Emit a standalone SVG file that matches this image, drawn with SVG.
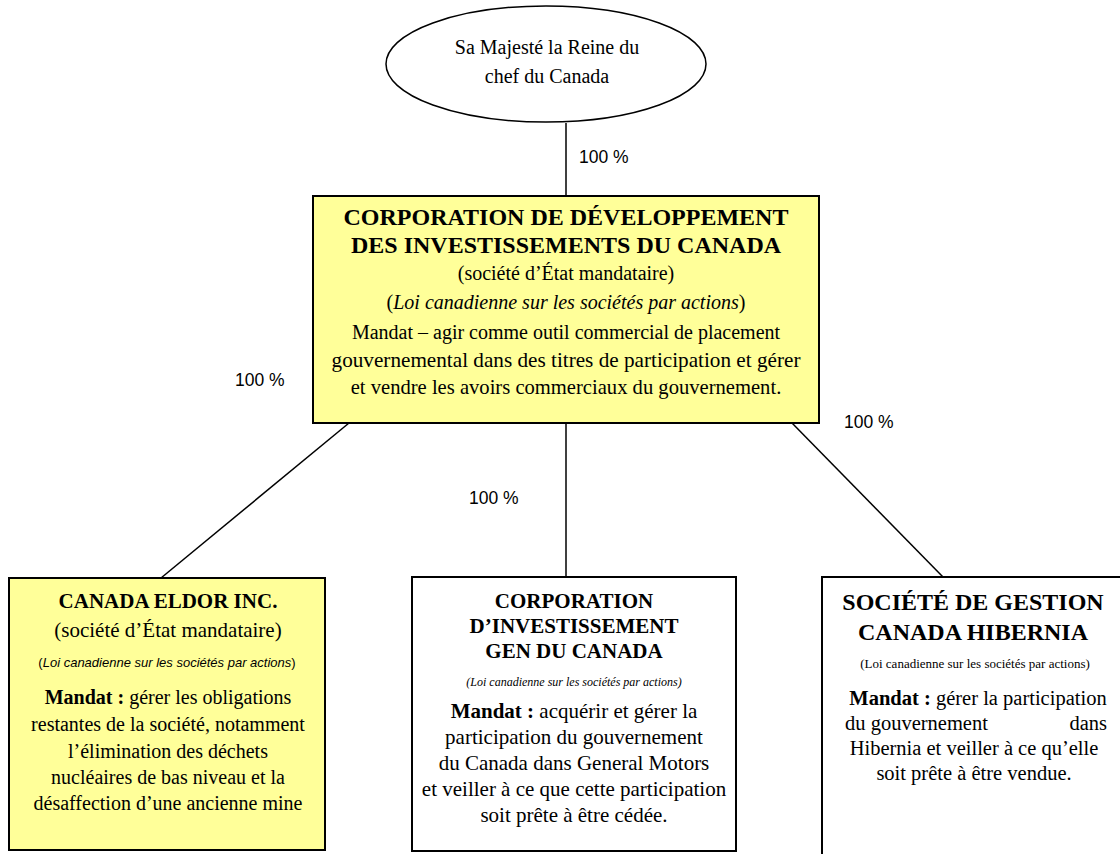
<svg xmlns="http://www.w3.org/2000/svg" width="1120" height="854" viewBox="0 0 1120 854">
<style>
.box{stroke:#000;stroke-width:2}
.y{fill:#FFFF99}
.w{fill:#fff}
.t{font-family:"Liberation Serif","Times New Roman",serif;fill:#000;text-anchor:middle}
.s{text-anchor:start}
.e{text-anchor:end}
.b{font-weight:bold}
.i{font-style:italic}
.a{font-family:"Liberation Sans",Arial,sans-serif;fill:#000}
.ln{stroke:#000;stroke-width:1.5;fill:none}
</style>
<rect width="1120" height="854" fill="#fff"/>
<g id="connectors">
<line class="ln" x1="566" y1="123" x2="566" y2="196"/>
<line class="ln" x1="349" y1="423" x2="161" y2="578"/>
<line class="ln" x1="566" y1="423" x2="566" y2="577"/>
<line class="ln" x1="792" y1="423" x2="943" y2="577"/>
<text class="a" x="579" y="163" font-size="17.5">100 %</text>
<text class="a" x="235" y="386" font-size="17.5">100 %</text>
<text class="a" x="469" y="504" font-size="17.5">100 %</text>
<text class="a" x="844" y="428" font-size="17.5">100 %</text>
</g>
<g id="queen">
<ellipse cx="546" cy="64" rx="160" ry="58" fill="#fff" stroke="#000" stroke-width="1.5"/>
<text class="t" x="547" y="54" font-size="20">Sa Majesté la Reine du</text>
<text class="t" x="547" y="83" font-size="20">chef du Canada</text>
</g>
<g id="cdic">
<rect class="box y" x="313" y="196" width="506" height="227"/>
<text class="t b" x="566" y="225" font-size="24">CORPORATION DE DÉVELOPPEMENT</text>
<text class="t b" x="566" y="253" font-size="24">DES INVESTISSEMENTS DU CANADA</text>
<text class="t" x="566" y="280" font-size="20">(société d’État mandataire)</text>
<text class="t" x="566" y="309" font-size="20">(<tspan class="i">Loi canadienne sur les sociétés par actions</tspan>)</text>
<text class="t" x="566" y="339" font-size="20">Mandat – agir comme outil commercial de placement</text>
<text class="t" x="566" y="367" font-size="21.2">gouvernemental dans des titres de participation et gérer</text>
<text class="t" x="566" y="394" font-size="20.6">et vendre les avoirs commerciaux du gouvernement.</text>
</g>
<g id="eldor">
<rect class="box y" x="9" y="578" width="316" height="272"/>
<text class="t b" x="168" y="608" font-size="21">CANADA ELDOR INC.</text>
<text class="t" x="168" y="637" font-size="21">(société d’État mandataire)</text>
<text class="a" x="167" y="667" font-size="13" text-anchor="middle">(<tspan font-style="italic">Loi canadienne sur les sociétés par actions</tspan>)</text>
<text class="t" x="168" y="704" font-size="20"><tspan class="b">Mandat :</tspan> gérer les obligations</text>
<text class="t" x="168" y="731" font-size="20">restantes de la société, notamment</text>
<text class="t" x="168" y="758" font-size="20">l’élimination des déchets</text>
<text class="t" x="168" y="784" font-size="20">nucléaires de bas niveau et la</text>
<text class="t" x="168" y="810" font-size="20">désaffection d’une ancienne mine</text>
</g>
<g id="gen">
<rect class="box w" x="412" y="577" width="324" height="274"/>
<text class="t b" x="574" y="608" font-size="21">CORPORATION</text>
<text class="t b" x="574" y="633" font-size="21">D’INVESTISSEMENT</text>
<text class="t b" x="574" y="658" font-size="21">GEN DU CANADA</text>
<text class="t i" x="574" y="686" font-size="12">(Loi canadienne sur les sociétés par actions)</text>
<text class="t" x="574" y="718" font-size="21"><tspan class="b">Mandat :</tspan> acquérir et gérer la</text>
<text class="t" x="574" y="744" font-size="21">participation du gouvernement</text>
<text class="t" x="574" y="770" font-size="21">du Canada dans General Motors</text>
<text class="t" x="574" y="796" font-size="21">et veiller à ce que cette participation</text>
<text class="t" x="574" y="822" font-size="21">soit prête à être cédée.</text>
</g>
<g id="hibernia">
<polyline class="box w" points="822,860 822,577 1125,577"/>
<text class="t b" x="973" y="610" font-size="24">SOCIÉTÉ DE GESTION</text>
<text class="t b" x="973" y="640" font-size="24">CANADA HIBERNIA</text>
<text class="t" x="975" y="668" font-size="13">(Loi canadienne sur les sociétés par actions)</text>
<text class="t" x="978" y="705" font-size="20.5"><tspan class="b">Mandat :</tspan> gérer la participation</text>
<text class="t s" x="845" y="730" font-size="20.5">du gouvernement</text>
<text class="t e" x="1107" y="730" font-size="20.5">dans</text>
<text class="t" x="974" y="755" font-size="20.5">Hibernia et veiller à ce qu’elle</text>
<text class="t" x="974" y="780" font-size="20.5">soit prête à être vendue.</text>
</g>
</svg>
